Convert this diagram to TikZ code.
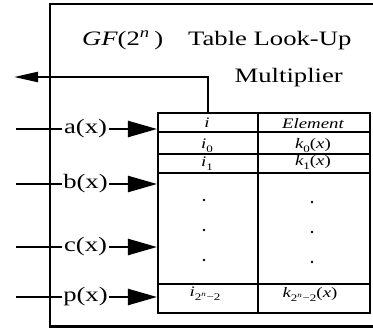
\documentclass[tikz,border=0pt]{standalone}
\usepackage{fontspec}
\setmainfont{Liberation Serif}
\usepackage{graphicx}
\usetikzlibrary{arrows.meta}
\newcommand\hs[1]{\scalebox{1.3}[1]{#1}}
\newcommand\subt[1]{\raisebox{-4bp}{\fontsize{10bp}{10bp}\selectfont #1}}
\begin{document}
\begin{tikzpicture}[x=1bp,y=-1bp,
  cell/.style={draw, line width=2.3bp, inner sep=0, anchor=north west},
  big/.style={font=\fontsize{20.5bp}{24bp}\selectfont, inner sep=0},
  small/.style={font=\fontsize{14.5bp}{16bp}\selectfont, inner sep=0},
  lab/.style={font=\fontsize{20.5bp}{24bp}\selectfont, inner sep=1.5bp},
  wire/.style={line width=2.3bp},
  inarrow/.style={line width=2.3bp, -{Triangle[length=29bp,width=16bp]}},
  outarrow/.style={line width=2.3bp, -{Triangle[length=24bp,width=10bp]}},
  dot/.style={fill=black}
]
\useasboundingbox (0,0) rectangle (373,329);
% outer frame (right side beyond picture)
\draw[wire] (375,4) -- (50,4) -- (50,326.5) -- (375,326.5);
% title
\node[big, anchor=base west] (gf) at (82,45) {\hs{\itshape GF\upshape(2\textsuperscript{\itshape n}\,)}};
\node[big, anchor=base west] (tl) at (188,45) {\hs{Table Look-Up}};
\node[big, anchor=base east] (mu) at (343,82) {\hs{Multiplier}};
% table cells
\node[cell, minimum width=100bp, minimum height=19bp] (hi) at (157,112) {};
\node[cell, minimum width=112bp, minimum height=19bp] (he) at (257,112) {};
\node[cell, minimum width=100bp, minimum height=22bp] (r0i) at (157,131) {};
\node[cell, minimum width=112bp, minimum height=22bp] (r0k) at (257,131) {};
\node[cell, minimum width=100bp, minimum height=19bp] (r1i) at (157,153) {};
\node[cell, minimum width=112bp, minimum height=19bp] (r1k) at (257,153) {};
\node[cell, minimum width=100bp, minimum height=111bp] (rdi) at (157,172) {};
\node[cell, minimum width=112bp, minimum height=111bp] (rdk) at (257,172) {};
\node[cell, minimum width=100bp, minimum height=29bp] (rli) at (157,283) {};
\node[cell, minimum width=112bp, minimum height=29bp] (rlk) at (257,283) {};
% table texts
\node[small, anchor=base] (ti) at (207,127) {\hs{\itshape i}};
\node[small, anchor=base] (te) at (313,128) {\hs{\itshape Element}};
\node[small, anchor=base] (t0i) at (207,148) {\hs{\itshape i\upshape\subt{0}}};
\node[small, anchor=base] (t0k) at (313,148) {\hs{\itshape k\upshape\subt{0}(\itshape x\upshape)}};
\node[small, anchor=base] (t1i) at (207,166) {\hs{\itshape i\upshape\subt{1}}};
\node[small, anchor=base] (t1k) at (313,165) {\hs{\itshape k\upshape\subt{1}(\itshape x\upshape)}};
\node[small, anchor=base] (tli) at (205,296) {\hs{\itshape i\upshape\subt{2\textsuperscript{\itshape n}\upshape−2}}};
\node[small, anchor=base] (tlk) at (310,297) {\hs{\itshape k\upshape\subt{2\textsuperscript{\itshape n}\upshape−2}(\itshape x\upshape)}};
% dots
\foreach \yy in {200,230,260} {
  \fill[dot] (204,\yy) circle (1.3bp);
  \fill[dot] (312,\yy+2) circle (1.3bp);
}
% output
\coordinate (outend) at (14,77);
\draw[outarrow] (hi.north) |- (outend);
% inputs
\coordinate (as) at (16,129);
\coordinate (at) at (157,129);
\node[lab] (a) at (85.5,129) {\hs{a(x)}};
\draw[wire] (as) -- (a);
\draw[inarrow] (a) -- (at);
\coordinate (bs) at (16,184);
\coordinate (bt) at (157,184);
\node[lab] (b) at (85.5,184) {\hs{b(x)}};
\draw[wire] (bs) -- (b);
\draw[inarrow] (b) -- (bt);
\coordinate (cs) at (16,247);
\coordinate (ct) at (157,247);
\node[lab] (c) at (85.5,247) {\hs{c(x)}};
\draw[wire] (cs) -- (c);
\draw[inarrow] (c) -- (ct);
\coordinate (ps) at (16,297);
\coordinate (pt) at (157,297);
\node[lab] (p) at (85.5,297) {\hs{p(x)}};
\draw[wire] (ps) -- (p);
\draw[inarrow] (p) -- (pt);
\end{tikzpicture}
\end{document}
